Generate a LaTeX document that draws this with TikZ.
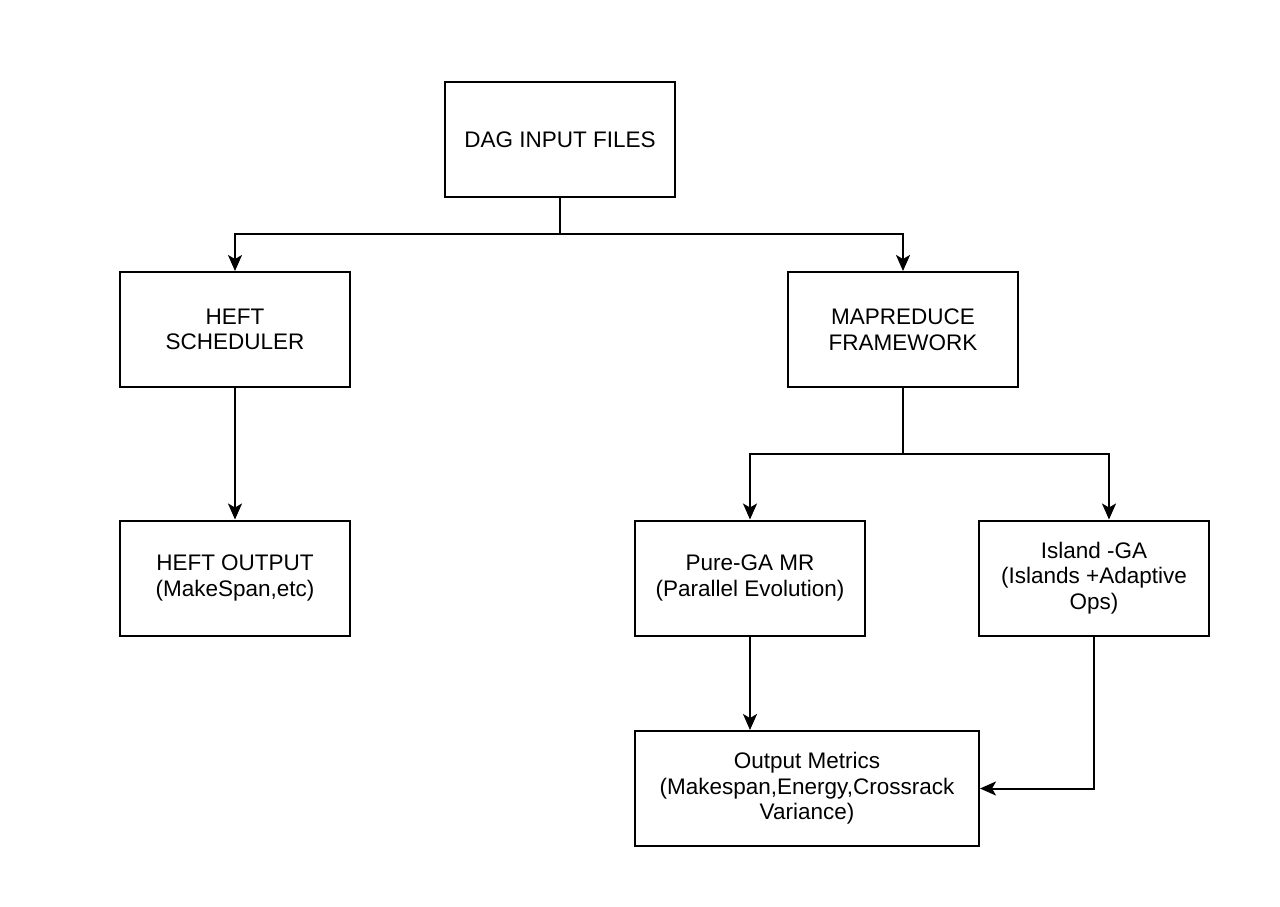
\documentclass[tikz,border=0pt]{standalone}
\usepackage{fontspec}
\setmainfont{Liberation Sans}
\usetikzlibrary{arrows.meta}
\begin{document}
\begin{tikzpicture}[x=1pt,y=-1pt,
  box/.style={draw,line width=2pt,minimum width=230pt,minimum height=115pt,align=center,inner sep=4pt,
    font=\fontsize{22.5}{25.5}\selectfont},
  conn/.style={draw,line width=2pt,-{Stealth[length=16pt,width=14pt,inset=4pt]}},
  wire/.style={draw,line width=2pt}]
\useasboundingbox (0,0) rectangle (1280,906);
\node[box] (dag) at (560,139.5) {DAG INPUT FILES};
\node[box] (heft) at (235,329.5) {HEFT\\SCHEDULER};
\node[box] (mr) at (903,329.5) {MAPREDUCE\\FRAMEWORK};
\node[box] (hout) at (235,578) {HEFT OUTPUT\\(MakeSpan,etc)};
\node[box] (pga) at (750,578) {Pure-GA MR\\(Parallel Evolution)};
\node[box] (iga) at (1094,578) {Island -GA\\(Islands +Adaptive\\Ops)};
\node[box,minimum width=344pt] (om) at (807,788.5) {Output Metrics\\(Makespan,Energy,Crossrack\\Variance)};
\coordinate (j1) at (560,234);
\coordinate (j2) at (903,454);
\path[wire] (dag.south) -- (j1);
\path[conn] (j1) -| (heft.north);
\path[conn] (j1) -| (mr.north);
\path[conn] (heft) -- (hout);
\path[wire] (mr.south) -- (j2);
\path[conn] (j2) -| (pga.north);
\path[conn] (j2) -| ([xshift=15pt]iga.north);
\path[conn] (pga.south) -- (pga.south |- om.north);
\path[conn] (iga.south) |- (om.east);
\end{tikzpicture}
\end{document}
